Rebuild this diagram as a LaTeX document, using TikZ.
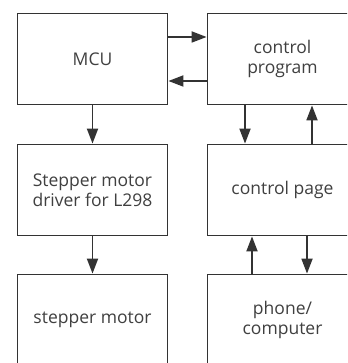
\documentclass[tikz,border=0pt]{standalone}
\usepackage{fontspec}
\setmainfont{Open Sans}
\usetikzlibrary{arrows.meta, positioning}
\definecolor{cline}{HTML}{333333}
\definecolor{ctext}{HTML}{404040}
\tikzset{
  every picture/.style={font=\fontsize{17.5}{20}\selectfont, line width=1.8pt},
  box/.style={draw=cline, fill=white, align=center, minimum width=150pt, minimum height=91pt, inner sep=0pt, text=ctext},
  arrow/.style={-{Triangle[length=15pt, width=11pt]}, draw=cline, fill=cline, line width=1.8pt},
}
\begin{document}
\begin{tikzpicture}[x=1pt, y=1pt]
  \useasboundingbox (0,0) rectangle (347,363);
  \clip (0,0) rectangle (347,363);
  \node[box] (mcu) at (92.5,304) {MCU};
  \node[box] (prog) at (282.5,304) {control\\program};
  \node[box] (driver) at (92.5,173) {Stepper motor\\driver for L298};
  \node[box] (page) at (282.5,173) {control page};
  \node[box] (motor) at (92.5,43) {stepper motor};
  \node[box] (phone) at (282.5,43) {phone/\\computer};
  % mcu <-> program
  \draw[arrow] ([yshift=22pt]mcu.east) -- ([yshift=22pt]prog.west);
  \draw[arrow] ([yshift=-22pt]prog.west) -- ([yshift=-22pt]mcu.east);
  % left column
  \draw[arrow] (mcu.south) -- (driver.north);
  \draw[arrow] (driver.south) -- (motor.north);
  % right column
  \draw[arrow] ([xshift=-37.5pt]prog.south) -- ([xshift=-37.5pt]page.north);
  \draw[arrow] ([xshift=29.5pt]page.north) -- ([xshift=29.5pt]prog.south);
  \draw[arrow] ([xshift=-30.5pt]phone.north) -- ([xshift=-30.5pt]page.south);
  \draw[arrow] ([xshift=24.5pt]page.south) -- ([xshift=24.5pt]phone.north);
\end{tikzpicture}
\end{document}
